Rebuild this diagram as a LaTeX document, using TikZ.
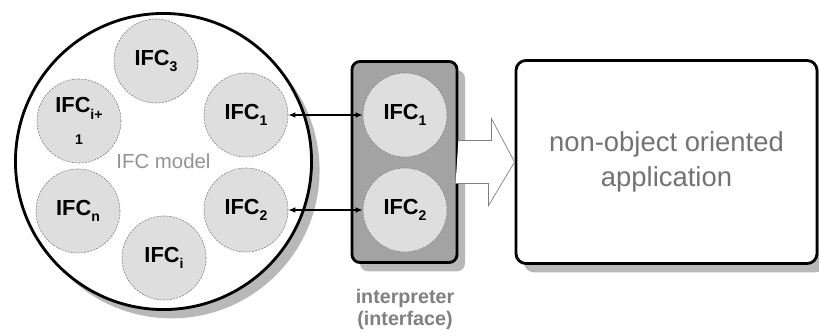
\documentclass[tikz,border=0pt]{standalone}
\usepackage{fontspec}
\setmainfont{Liberation Sans}
\usepackage{tikz}
\usepackage{xcolor}
\usetikzlibrary{arrows.meta, shadows}

\definecolor{ifcfill}{HTML}{DEDEDE}
\definecolor{boxfill}{HTML}{A3A3A3}
\definecolor{shadowgray}{HTML}{B8B8B8}
\definecolor{labelgray}{HTML}{808080}

\newcommand{\ifcsub}[1]{\raisebox{-4.5pt}{\fontsize{10}{10}\selectfont #1}}

\tikzset{
	ifc/.style={circle, draw=gray, dash pattern=on 1.5pt off 0.8pt, line width=0.4pt, fill=ifcfill, minimum size=2.1cm, inner sep=0pt, align=center, font=\bfseries\fontsize{15.5}{11}\selectfont},
	shadowed/.style={drop shadow={shadow xshift=0.2cm, shadow yshift=-0.22cm, fill=shadowgray, opacity=1}},
	link/.style={{Latex[length=5pt, width=4pt]}-{Latex[length=5pt, width=4pt]}, line width=0.9pt},
	fatarrow/.style={draw=gray, line width=0.5pt, fill=white}
}

\begin{document}
\begin{tikzpicture}[x=0.025cm, y=-0.025cm]
	\useasboundingbox (0,0) rectangle (819,335);
	% Model, interpreter and application:
	\node[circle, draw, line width=2pt, fill=white, shadowed, minimum size=7.4cm, text=labelgray!85, font=\fontsize{14.5}{16}\selectfont](model) at (163.5,161.5){IFC model};
	\node[ifc](o3) at (156,61){IFC\ifcsub{3}};
	\node[ifc](o1) at (246,115){IFC\ifcsub{1}};
	\node[ifc](oi1) at (79,121){IFC\ifcsub{i+}\\[10pt]{\fontsize{10}{10}\selectfont 1}};
	\node[ifc](on) at (78,211){IFC\ifcsub{n}};
	\node[ifc](o2) at (246,210){IFC\ifcsub{2}};
	\node[ifc](oi) at (164,258){IFC\ifcsub{i}};
	\node[rectangle, rounded corners=0.2cm, draw, line width=2pt, fill=boxfill, shadowed, minimum width=2.625cm, minimum height=5.025cm](interp) at (404.5,162){};
	\node[ifc](n1) at (405,115){IFC\ifcsub{1}};
	\node[ifc](n2) at (405,210){IFC\ifcsub{2}};
	\node[align=center, text=labelgray, font=\bfseries\fontsize{14}{15.6}\selectfont](interplabel) at (405,309){interpreter\\(interface)};
	\node[rectangle, rounded corners=0.25cm, draw, line width=2pt, fill=white, shadowed, minimum width=7.525cm, minimum height=5.075cm, align=center, text=labelgray!90!black, font=\fontsize{19.5}{25}\selectfont](app) at (666.5,162){non-object oriented\\application};
	% Connectors:
	\draw[link] (o1.east) -- (n1.west);
	\draw[link] (o2.east) -- (n2.west);
	\draw[fatarrow] (interp.east) ++(0,-21.5) -- ++(33,0) -- ++(0,-22) -- (app.west) -- ++(-26,43.5) -- ++(0,-22) -- ++(-33,0);
\end{tikzpicture}
\end{document}
